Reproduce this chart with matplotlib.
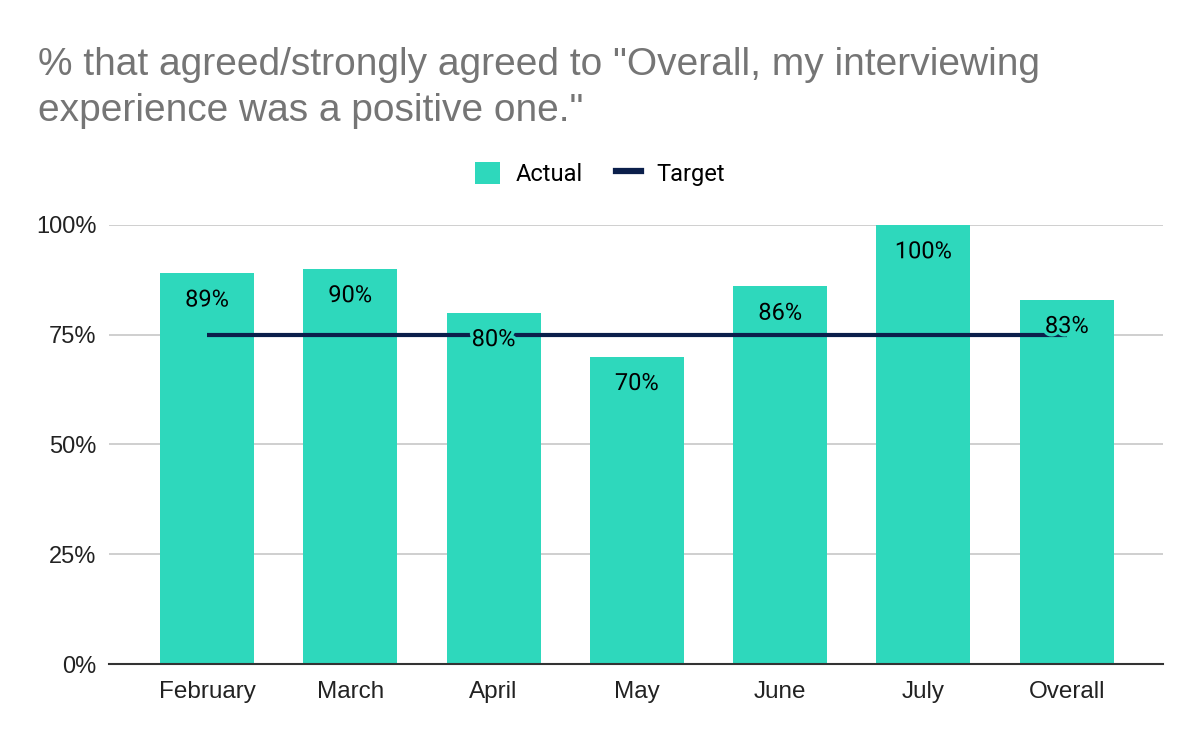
import matplotlib
matplotlib.use("Agg")
import matplotlib.pyplot as plt
import matplotlib.patheffects as pe
from matplotlib.lines import Line2D
from matplotlib.patches import Patch

categories = ["February", "March", "April", "May", "June", "July", "Overall"]
actual = [89, 90, 80, 70, 86, 100, 83]
target = [75, 75, 75, 75, 75, 75, 75]
yticks = [0, 25, 50, 75, 100]

bar_color = "#2ed8bc"
line_color = "#0b1f4b"

fig = plt.figure(figsize=(12, 7.42), dpi=100)
ax = fig.add_axes([0.0908, 0.1051, 0.969 - 0.0908, 0.6968 - 0.1051])

x = list(range(len(categories)))
ax.bar(x, actual, width=0.656, color=bar_color, zorder=2)
ax.plot(x, target, color=line_color, linewidth=3, zorder=3, solid_capstyle="butt")

for xi, v in zip(x, actual):
    ax.text(xi, v - 6.1, f"{v}%", ha="center", va="center", fontsize=17,
            family=["Roboto", "DejaVu Sans"], color="black", zorder=4,
            path_effects=[pe.withStroke(linewidth=5, foreground=bar_color)])

ax.set_xlim(-0.684, 6.67)
ax.set_ylim(0, 100)
ax.set_yticks(yticks)
ax.set_yticklabels([f"{t}%" for t in yticks], fontsize=17, family=["Liberation Sans", "DejaVu Sans"], color="#222222")
ax.set_xticks(x)
ax.set_xticklabels(categories, fontsize=17.5, family=["Liberation Sans", "DejaVu Sans"], color="#222222")
ax.tick_params(axis="x", length=0, pad=12)
ax.tick_params(axis="y", length=0, pad=9)
ax.grid(axis="y", color="#cccccc", linewidth=1.3, zorder=0)
ax.set_axisbelow(True)
for s in ["top", "right", "left"]:
    ax.spines[s].set_visible(False)
ax.spines["bottom"].set_color("#333333")
ax.spines["bottom"].set_linewidth(1.5)
ax.spines["bottom"].set_zorder(5)

fig.text(0.032, 0.937, '% that agreed/strongly agreed to "Overall, my interviewing\nexperience was a positive one."',
         fontsize=28, color="#757575", family=["Liberation Sans", "DejaVu Sans"],
         ha="left", va="top", linespacing=1.38)

handles = [Patch(facecolor=bar_color, edgecolor="none"),
           Line2D([0], [0], color=line_color, linewidth=4.5)]
fig.legend(handles, ["Actual", "Target"], loc="center", bbox_to_anchor=(0.5, 0.766),
           ncol=2, frameon=False, handlelength=1.05, handleheight=1.05,
           columnspacing=1.4, handletextpad=0.68,
           prop={"family": ["Roboto", "DejaVu Sans"], "size": 17})

fig.savefig("out.png", dpi=100)
